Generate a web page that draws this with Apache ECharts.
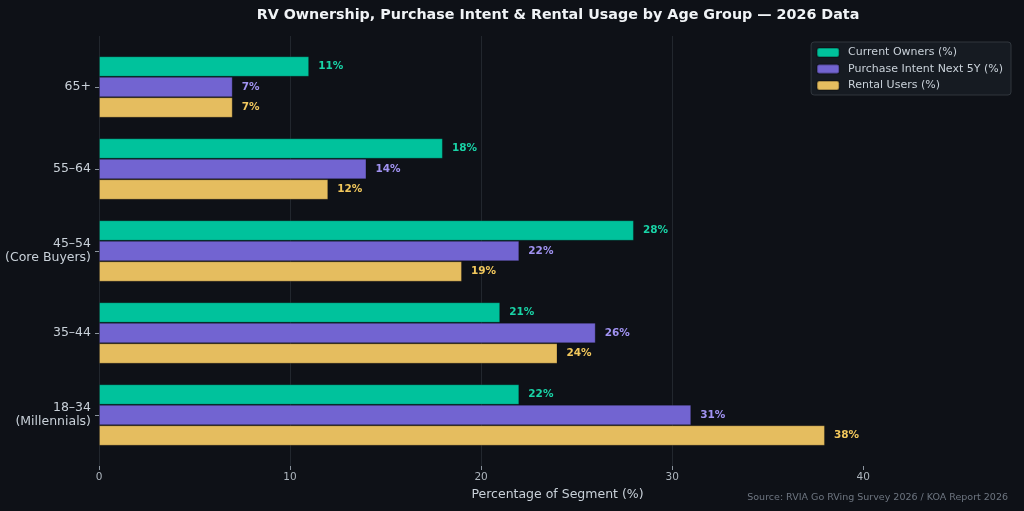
<!DOCTYPE html>
<html>
<head>
<meta charset="utf-8">
<script src="https://cdn.jsdelivr.net/npm/echarts@6/dist/echarts.min.js"></script>
<style>
  html, body { margin: 0; padding: 0; background: #0e1117; }
  #chart { width: 1024px; height: 511px; }
</style>
</head>
<body>
<div id="chart"></div>
<script>
// age groups, top to bottom
const ageGroups = ['65+', '55–64', '45–54\n(Core Buyers)', '35–44', '18–34\n(Millennials)']
const currentOwners = [11, 18, 28, 21, 22]
const purchaseIntent = [7, 14, 22, 26, 31]
const rentalUsers = [7, 12, 19, 24, 38]
const xTicks = [0, 10, 20, 30, 40]

const seriesNames = ['Current Owners (%)', 'Purchase Intent Next 5Y (%)', 'Rental Users (%)']
const barColors = ['#00c29c', '#7264d1', '#e5bd5f']
const labelColors = ['#19d3a6', '#a193f2', '#f2c85c']

const font = 'DejaVu Sans'
const chart = echarts.init(document.getElementById('chart'))

const makeBar = (i, data) => ({
  name: seriesNames[i],
  type: 'bar',
  xAxisIndex: 0,
  yAxisIndex: 0,
  data: data,
  barWidth: 20.5,
  barGap: '0%',
  itemStyle: {color: barColors[i], borderColor: 'rgba(0,0,0,0.25)', borderWidth: 1},
  label: {
    show: true, position: 'right', distance: 9,
    formatter: '{c}%',
    color: labelColors[i], fontFamily: font, fontWeight: 'bold', fontSize: 10.5
  }
})

chart.setOption({
  backgroundColor: '#0e1117',
  animation: false,
  title: {
    text: 'RV Ownership, Purchase Intent & Rental Usage by Age Group — 2026 Data',
    left: 553, top: 3, textAlign: 'center',
    textStyle: {color: '#f0f3f6', fontFamily: font, fontWeight: 'bold', fontSize: 14.3}
  },
  legend: {
    data: seriesNames,
    orient: 'vertical',
    right: 13, top: 42,
    itemWidth: 22, itemHeight: 9, itemGap: 5.5,
    padding: [5, 8, 4, 5],
    backgroundColor: '#161b22',
    borderColor: '#30363d', borderWidth: 1, borderRadius: 3,
    textStyle: {color: '#c9d1d9', fontFamily: font, fontSize: 11, padding: [0, 0, 0, 4]}
  },
  grid: [
    {left: 99, right: 8, top: 46, bottom: 55},
    {left: 99, right: 8, top: 36, bottom: 45}
  ],
  xAxis: [
    {gridIndex: 0, type: 'value', min: 0, max: 48, show: false},
    {
      gridIndex: 1, type: 'value', min: 0, max: 48, interval: 10,
      name: 'Percentage of Segment (%)', nameLocation: 'middle', nameGap: 20,
      nameTextStyle: {color: '#c9d1d9', fontFamily: font, fontSize: 12.5},
      axisLine: {show: false},
      axisTick: {show: true, length: 4, lineStyle: {color: '#8b949e'}, customValues: xTicks},
      axisLabel: {color: '#adb5bd', fontFamily: font, fontSize: 10.5, margin: 6, customValues: xTicks},
      splitLine: {show: true, showMaxLine: false, lineStyle: {color: '#22272e', width: 1}}
    }
  ],
  yAxis: [
    {
      gridIndex: 0, type: 'category', inverse: true, data: ageGroups,
      axisLine: {show: false},
      axisTick: {show: true, alignWithLabel: true, length: 4, lineStyle: {color: '#8b949e'}},
      axisLabel: {color: '#c9d1d9', fontFamily: font, fontSize: 12.5, lineHeight: 14, margin: 8}
    },
    {gridIndex: 1, type: 'value', min: 0, max: 1, show: false}
  ],
  graphic: [{
    type: 'text', right: 16, top: 493,
    style: {
      text: 'Source: RVIA Go RVing Survey 2026 / KOA Report 2026',
      fill: '#6e7681', font: '9.5px "DejaVu Sans"'
    }
  }],
  series: [
    makeBar(0, currentOwners),
    makeBar(1, purchaseIntent),
    makeBar(2, rentalUsers)
  ]
})
</script>
</body>
</html>
